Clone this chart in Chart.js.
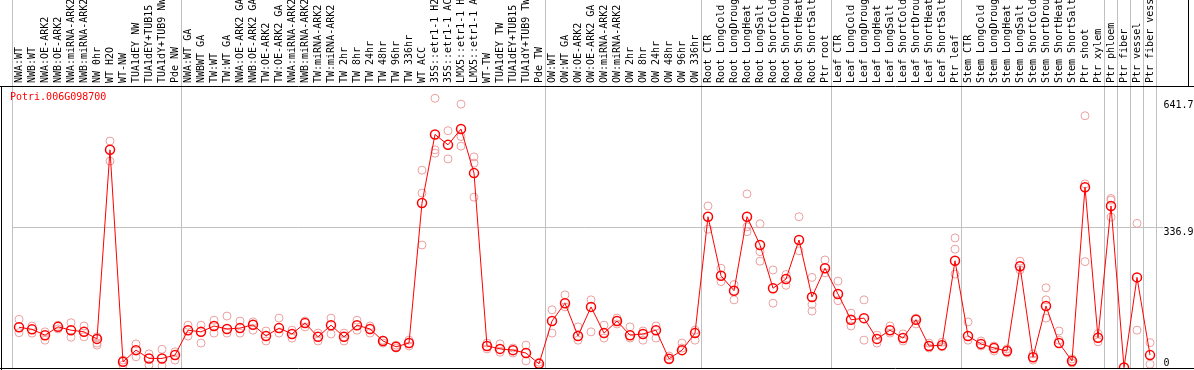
<!DOCTYPE html>
<html>
<head>
<meta charset="utf-8">
<script src="https://cdn.jsdelivr.net/npm/chart.js@4.4.1/dist/chart.umd.min.js"></script>
<style>
html, body { margin: 0; padding: 0; background: #fff; }
</style>
</head>
<body>
<canvas id="exprChart" width="1194" height="370"></canvas>
<script>
const geneName = "Potri.006G098700";

const categories = [
    "NWA:WT", "NWB:WT", "NWA:OE-ARK2", "NWB:OE-ARK2", "NWA:miRNA-ARK2", "NWB:miRNA-ARK2", "NW 0hr",
    "WT H2O", "WT-NW", "TUA1dEY NW", "TUA1dEY+TUB15 NW", "TUA1dY+TUB9 NW", "Pde NW",
    "NWA:WT GA", "NWBWT GA", "TW:WT", "TW:WT GA", "NWA:OE-ARK2 GA", "NWB:OE-ARK2 GA", "TW:OE-ARK2",
    "TW:OE-ARK2 GA", "NWA:miRNA-ARK2", "NWB:miRNA-ARK2", "TW:miRNA-ARK2", "TW:miRNA-ARK2",
    "TW 2hr", "TW 8hr", "TW 24hr", "TW 48hr", "TW 96hr", "TW 336hr", "WT ACC",
    "35S::etr1-1 H2O", "35S::etr1-1 ACC", "LMX5::etr1-1 H2O", "LMX5::etr1-1 ACC",
    "WT-TW", "TUA1dEY TW", "TUA1dEY+TUB15 TW", "TUA1dY+TUB9 TW", "Pde TW",
    "OW:WT", "OW:WT GA", "OW:OE-ARK2", "OW:OE-ARK2 GA", "OW:miRNA-ARK2", "OW:miRNA-ARK2",
    "OW 2hr", "OW 8hr", "OW 24hr", "OW 48hr", "OW 96hr", "OW 336hr",
    "Root CTR", "Root LongCold", "Root LongDrought", "Root LongHeat", "Root LongSalt",
    "Root ShortCold", "Root ShortDrought", "Root ShortHeat", "Root ShortSalt", "Ptr root",
    "Leaf CTR", "Leaf LongCold", "Leaf LongDrought", "Leaf LongHeat", "Leaf LongSalt",
    "Leaf ShortCold", "Leaf ShortDrought", "Leaf ShortHeat", "Leaf ShortSalt", "Ptr leaf",
    "Stem CTR", "Stem LongCold", "Stem LongDrought", "Stem LongHeat", "Stem LongSalt",
    "Stem ShortCold", "Stem ShortDrought", "Stem ShortHeat", "Stem ShortSalt", "Ptr shoot",
    "Ptr xylem", "Ptr phloem", "Ptr fiber", "Ptr vessel", "Ptr fiber vessel"
];

// mean expression per sample
const meanValues = [
    98, 93, 79, 99, 91, 87, 70, 525, 15, 43, 23, 23, 31,
    91, 87, 101, 94, 96, 104, 77, 96, 82, 108, 75, 103, 75, 103, 94, 65, 51, 60, 397,
    562, 537, 575, 469, 53, 46, 43, 36, 10,
    113, 156, 77, 147, 84, 113, 79, 82, 91, 22, 43, 84,
    364, 222, 186, 364, 296, 192, 214, 308, 171, 240,
    178, 116, 120, 70, 91, 72, 116, 53, 55, 258,
    77, 58, 48, 41, 245, 26, 149, 60, 17, 435, 73,
    390, 1, 218, 31
];

// replicates
const rep1 = [
    117, 101, 87, 103, 109, 101, 75, 546, 19, 58, 34, 45, 39,
    103, 103, 115, 125, 113, 111, 89, 120, 91, 113, 84, 120, 84, 115, 101, 67, 55, 67, 476,
    649, 571, 635, 508, 60, 58, 48, 55, 14,
    140, 176, 99, 164, 103, 120, 99, 89, 101, 29, 60, 91,
    390, 240, 201, 419, 347, 236, 225, 364, 218, 260,
    209, 132, 164, 79, 101, 82, 120, 60, 62, 313,
    111, 65, 53, 46, 257, 34, 193, 89, 22, 607, 83,
    408, null, 348, 61
];
const rep2 = [
    85, 84, 67, 94, 74, 75, 55, 498, 7, 27, 7, 5, 19,
    77, 60, 84, 84, 84, 91, 65, 84, 72, 99, 65, 82, 65, 91, 84, 60, 48, 53, 296,
    517, 503, 534, 411, 46, 38, 36, 17, 5,
    84, 147, 67, 87, 72, 106, 72, 67, 72, 19, 48, 67,
    334, 208, 164, 328, 257, 156, 199, 282, 137, 229,
    162, 101, 67, 60, 84, 65, 106, 48, 51, 286,
    67, 53, 41, 36, 236, 19, 164, 67, 12, 443, 63,
    404, null, 91, 9
];
const rep3 = [
    null, null, null, null, null, null, 60, null, null, null, null, null, null,
    null, null, null, null, null, null, null, null, null, null, null, null, null, null, null, null, null, null, 421,
    525, null, 557, 493, null, null, null, null, null,
    null, null, null, null, null, null, null, null, null, null, null, null,
    null, null, null, 340, 280, null, null, null, 153, null,
    null, null, null, null, null, null, null, null, null, 226,
    null, null, null, null, null, null, 120, null, null, 256, null,
    363, null, null, null
];

const yTicks = [0, 336.9, 641.7];
const groupStarts = [0, 13, 41, 53, 63, 73, 84, 85, 86, 87];

const framePlugin = {
    id: 'frame',
    afterDraw(chart) {
        const ctx = chart.ctx;
        const area = chart.chartArea;
        ctx.save();
        ctx.strokeStyle = '#000';
        ctx.lineWidth = 1;
        ctx.beginPath();
        ctx.moveTo(0, area.top + 0.5);
        ctx.lineTo(chart.width, area.top + 0.5);
        ctx.moveTo(0, area.bottom + 0.5);
        ctx.lineTo(chart.width, area.bottom + 0.5);
        ctx.moveTo(1.5, area.top);
        ctx.lineTo(1.5, chart.height);
        ctx.moveTo(1188.5, 0);
        ctx.lineTo(1188.5, area.top);
        ctx.stroke();
        ctx.fillStyle = '#ff0000';
        ctx.font = '10px "DejaVu Sans Mono"';
        ctx.textBaseline = 'middle';
        ctx.textAlign = 'left';
        ctx.fillText(geneName, 10, 97);
        ctx.restore();
    }
};

const repStyle = {
    type: 'line',
    showLine: false,
    pointRadius: 4,
    pointBorderWidth: 1,
    pointBorderColor: '#eba0a0',
    pointBackgroundColor: 'rgba(0,0,0,0)'
};

const noPadding = (scale) => {
    scale.paddingTop = 0;
    scale.paddingBottom = 0;
    scale.paddingLeft = 0;
    scale.paddingRight = 0;
};

const exprChart = document.getElementById('exprChart');
new Chart(exprChart, {
    type: 'line',
    data: {
        labels: categories,
        datasets: [{
            data: meanValues,
            borderColor: '#ff0000',
            borderWidth: 1,
            pointRadius: 4.5,
            pointBorderWidth: 1.5,
            pointBorderColor: '#ff0000',
            pointBackgroundColor: 'rgba(0,0,0,0)',
            tension: 0
        },
        Object.assign({ data: rep1 }, repStyle),
        Object.assign({ data: rep2 }, repStyle),
        Object.assign({ data: rep3 }, repStyle)
        ]
    },
    options: {
        responsive: false,
        animation: false,
        layout: {
            autoPadding: false,
            padding: { left: 12.5, right: 0, top: 0, bottom: 2 }
        },
        plugins: {
            legend: false,
            tooltip: { enabled: false }
        },
        scales: {
            x: {
                type: 'category',
                position: 'top',
                offset: true,
                grid: {
                    offset: true,
                    drawTicks: true,
                    tickLength: 86,
                    lineWidth: 1,
                    color: (c) => (c.type !== 'tick' || groupStarts.includes(c.index)) ? '#c0c0c0' : 'rgba(0,0,0,0)'
                },
                border: { display: false },
                ticks: {
                    autoSkip: false,
                    minRotation: 90,
                    maxRotation: 90,
                    padding: -83,
                    labelOffset: 12,
                    color: '#000',
                    font: { family: 'DejaVu Sans Mono', size: 10 }
                },
                afterFit: (scale) => { scale.height = 86; noPadding(scale); }
            },
            y: {
                position: 'right',
                min: 0,
                max: 678.6,
                grid: {
                    drawTicks: true,
                    tickLength: 7,
                    color: (c) => (c.tick && c.tick.value === 336.9) ? '#c0c0c0' : 'rgba(0,0,0,0)'
                },
                border: { display: false },
                afterBuildTicks: (scale) => { scale.ticks = yTicks.map(v => ({ value: v })); },
                ticks: {
                    padding: 0,
                    color: '#000',
                    font: { family: 'DejaVu Sans Mono', size: 10, lineHeight: 0.9 },
                    callback: (v) => v === 0 ? ['0', ''] : ['', String(v)]
                },
                afterFit: (scale) => { scale.width = 37.5; noPadding(scale); }
            }
        }
    },
    plugins: [framePlugin]
});
</script>
</body>
</html>
